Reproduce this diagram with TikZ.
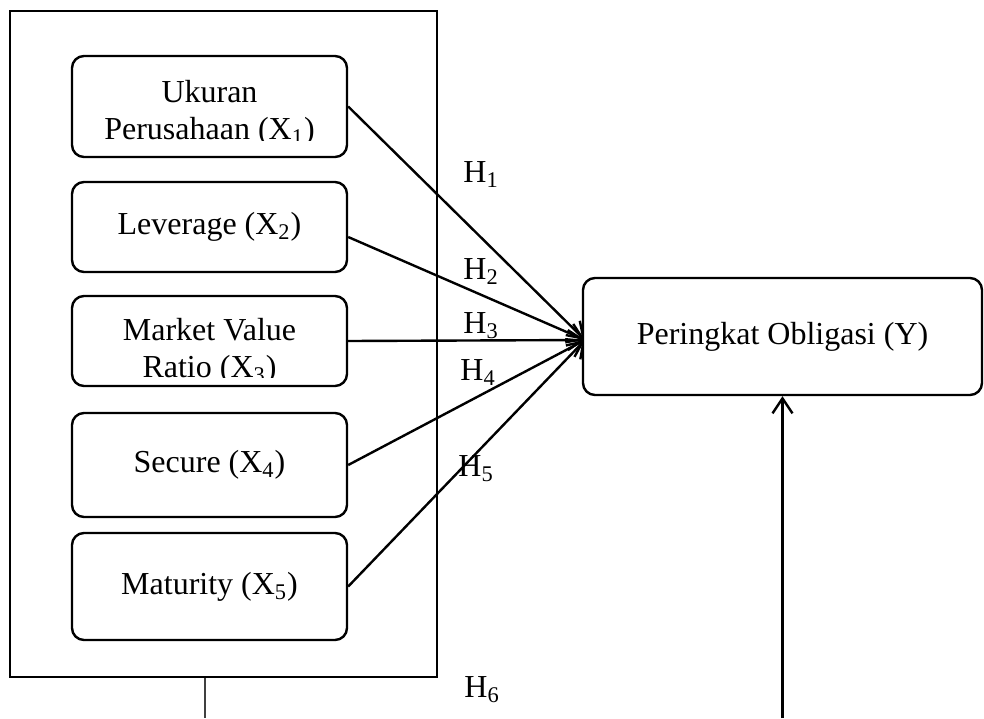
\documentclass[tikz,border=0pt]{standalone}
\usepackage{fontspec}
\setmainfont{Liberation Serif}
\usetikzlibrary{arrows.meta}
\pgfdeclarelayer{edgelayer}
\pgfdeclarelayer{nodelayer}
\pgfsetlayers{edgelayer,nodelayer,main}
\tikzstyle{edge}=[draw=black, line width=1.2pt]
\tikzstyle{arrow}=[edge, -{Straight Barb[length=7.5pt,width=10pt,line width=1.2pt]}]
\tikzstyle{frame}=[rectangle, draw=black, line width=1.2pt, inner sep=0pt]
\tikzstyle{var}=[rectangle, rounded corners=6pt, draw=black, fill=white, line width=1.2pt, inner sep=0pt, minimum width=137.5pt, font=\fontsize{16}{18.5}\selectfont]
\tikzstyle{txt}=[anchor=base, inner sep=0pt, font=\fontsize{16}{18.5}\selectfont]
\tikzstyle{hyp}=[anchor=base west, inner sep=0pt, font=\fontsize{16}{18.5}\selectfont]

\begin{document}
\begin{tikzpicture}[x=0.5pt, y=-0.5pt]
				\useasboundingbox (0,0) rectangle (984,718);
				\begin{pgfonlayer}{nodelayer}
					\node [style=frame, minimum width=213.5pt, minimum height=333pt] (frame) at (223.5, 344) {};
					\node [style=var, minimum height=50.5pt] (b1) at (209.5, 106.5) {};
					\node [style=var, minimum height=45pt] (b2) at (209.5, 227) {Leverage (X\textsubscript{2})};
					\node [style=var, minimum height=45pt] (b3) at (209.5, 341) {};
					\node [style=var, minimum height=52pt] (b4) at (209.5, 465) {Secure (X\textsubscript{4})};
					\node [style=var, minimum height=53.5pt] (b5) at (209.5, 586.5) {Maturity (X\textsubscript{5})};
					\node [style=var, minimum width=199.5pt, minimum height=58.5pt] (y) at (782.5, 336.5) {Peringkat Obligasi (Y)};
				\end{pgfonlayer}
				% text that runs past the bottom of its box
				\begin{scope}
					\clip (72, 56) rectangle (347, 140);
					\node [style=txt] (t1a) at (209.5, 102) {Ukuran};
					\node [style=txt] (t1b) at (209.5, 139.5) {Perusahaan (X\textsubscript{1})};
				\end{scope}
				\begin{scope}
					\clip (72, 296) rectangle (347, 377);
					\node [style=txt] (t3a) at (209.5, 340) {Market Value};
					\node [style=txt] (t3b) at (209.5, 377) {Ratio (X\textsubscript{3})};
				\end{scope}
				\node [style=hyp] (h1) at (463, 182) {H\textsubscript{1}};
				\node [style=hyp] (h2) at (463, 279) {H\textsubscript{2}};
				\node [style=hyp] (h3) at (463, 333) {H\textsubscript{3}};
				\node [style=hyp] (h4) at (460, 380) {H\textsubscript{4}};
				\node [style=hyp] (h5) at (458, 476) {H\textsubscript{5}};
				\node [style=hyp] (h6) at (464, 697) {H\textsubscript{6}};
				\coordinate (tip) at (585, 340);
				\coordinate (fb) at (205, 677);
				\coordinate (lb) at (205, 718);
				\coordinate (yb) at (782.5, 718);
				\begin{pgfonlayer}{edgelayer}
					\draw [style=arrow] (b1.east) to (tip);
					\draw [style=arrow] ([yshift=-5pt]b2.east) to (tip);
					\draw [style=arrow] (b3.east) to (tip);
					\draw [style=arrow] (b4.east) to (tip);
					\draw [style=arrow] (b5.east) to (tip);
					\draw [style=arrow] (yb) to (y.south);
					\draw [draw=black!75, line width=0.6pt] (fb) to (lb);
				\end{pgfonlayer}
			\end{tikzpicture}
\end{document}
